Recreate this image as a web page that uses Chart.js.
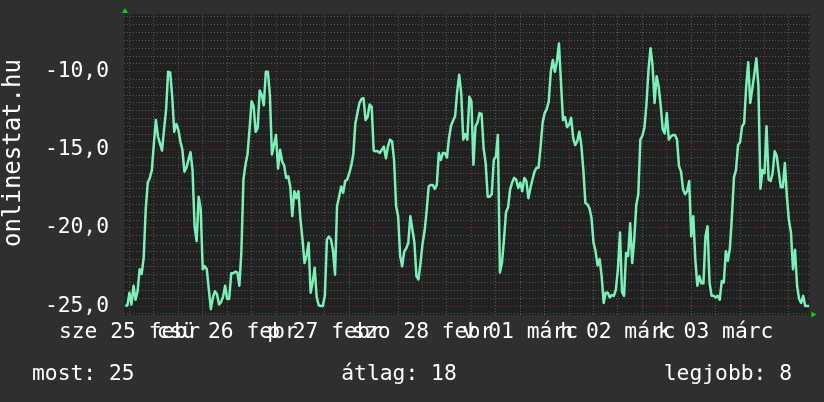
<!DOCTYPE html>
<html><head><meta charset="utf-8">
<script src="https://cdn.jsdelivr.net/npm/chart.js@4"></script>
<style>html,body{margin:0;padding:0;background:#2f2f2f;overflow:hidden}</style>
</head><body>
<canvas id="c" width="824" height="402" style="width:824px;height:402px;display:block"></canvas>
<script>
// time axis: hours since 2015-02-25 00:00, one value every half hour
const firstHour = 11;
const stepHours = 0.5;
const rankValues = [
 -25.0,-24.95,-24.15,-24.9,-23.7,-24.6,-24.05,-22.65,-22.95,-21.9,
 -18.8,-17.1,-16.8,-16.3,-14.6,-13.1,-14.15,-14.6,-15.05,-13.7,
 -12.45,-10.0,-10.05,-11.6,-13.85,-13.35,-13.7,-14.45,-15.0,-16.4,
 -16.15,-15.65,-15.15,-16.3,-19.9,-20.85,-18.0,-18.8,-22.65,-22.45,
 -22.65,-23.95,-25.2,-24.45,-24.05,-24.25,-24.9,-24.75,-24.4,-23.7,
 -24.55,-24.55,-22.9,-22.9,-22.8,-22.85,-23.7,-21.5,-16.9,-15.95,
 -15.3,-13.7,-11.9,-12.2,-13.85,-13.6,-11.2,-11.5,-12.15,-10.0,
 -10.0,-11.5,-15.3,-14.7,-14.05,-16.2,-15.0,-15.75,-16.0,-16.8,
 -16.7,-17.35,-19.25,-17.65,-18.1,-17.65,-19.45,-20.7,-22.25,-21.8,
 -20.95,-24.15,-23.5,-22.55,-24.45,-24.95,-25.0,-25.0,-24.35,-20.75,
 -20.55,-20.75,-21.45,-23.0,-18.6,-18.0,-17.35,-17.75,-17.0,-16.9,
 -16.5,-16.0,-15.25,-13.3,-12.65,-12.0,-11.75,-11.7,-13.1,-12.9,
 -12.1,-12.25,-15.05,-15.1,-15.1,-15.2,-15.0,-14.8,-15.55,-14.8,
 -14.35,-14.45,-15.65,-18.6,-19.25,-21.8,-22.45,-21.5,-21.3,-20.95,
 -19.25,-20.1,-20.95,-23.1,-23.3,-22.25,-21.0,-20.2,-18.95,-17.35,
 -17.25,-17.25,-17.5,-17.25,-15.2,-15.65,-15.2,-15.2,-15.5,-14.25,
 -13.45,-13.15,-12.85,-11.3,-10.2,-11.4,-14.35,-14.0,-14.35,-11.6,
 -11.9,-15.95,-13.5,-13.25,-12.65,-12.7,-14.9,-15.85,-18.0,-18.0,
 -17.85,-15.65,-15.45,-14.05,-22.85,-22.25,-20.75,-19.0,-18.7,-17.55,
 -17.1,-16.8,-16.9,-17.45,-17.1,-17.65,-16.8,-17.0,-18.1,-17.45,
 -16.9,-16.4,-16.15,-16.15,-14.8,-13.25,-12.65,-12.4,-11.9,-10.0,
 -9.25,-10.0,-9.35,-8.2,-10.65,-13.1,-12.9,-13.55,-13.4,-12.95,
 -14.25,-14.7,-14.45,-13.85,-14.7,-16.3,-18.4,-18.5,-18.75,-19.35,
 -20.95,-21.5,-22.4,-22.0,-23.1,-24.8,-24.15,-24.15,-24.45,-24.3,
 -24.35,-23.95,-22.6,-20.3,-24.1,-24.35,-21.6,-21.8,-19.7,-22.25,
 -20.75,-18.55,-17.85,-14.35,-14.1,-13.6,-12.1,-9.9,-8.5,-9.6,
 -12.0,-10.3,-10.95,-12.15,-13.7,-13.95,-12.65,-14.35,-14.15,-14.05,
 -14.05,-14.35,-16.05,-16.4,-17.55,-17.85,-17.65,-17.0,-20.55,-19.25,
 -22.0,-23.7,-23.1,-23.55,-23.55,-20.55,-19.9,-23.5,-24.35,-24.35,
 -24.45,-24.35,-24.6,-23.4,-23.5,-21.5,-22.1,-21.3,-19.25,-16.75,
 -16.3,-14.7,-14.5,-13.5,-13.3,-10.95,-9.4,-12.0,-11.1,-10.15,
 -9.15,-10.9,-17.5,-16.3,-16.5,-13.5,-16.9,-17.0,-16.5,-15.1,
 -15.4,-16.4,-17.4,-17.4,-15.85,-18.0,-19.5,-20.3,-22.65,-21.4,
 -23.7,-24.55,-24.8,-24.35,-25.0,-25.0,-25.0
];
const dayLabelHours = [12, 36, 60, 84, 108, 132, 156];
const dayLabels = ['sze 25 febr', 'csü 26 febr', 'p 27 febr', 'szo 28 febr', 'v 01 márc', 'h 02 márc', 'k 03 márc'];
const yTickValues = [-10, -15, -20, -25];
const yTickLabels = ['-10,0', '-15,0', '-20,0', '-25,0'];
const axisTitle = 'onlinestat.hu';
const statLabels = ['most: 25', 'átlag: 18', 'legjobb: 8'];

const FONT = '"DejaVu Sans Mono", monospace';
const FS = 21.3;
const points = rankValues.map((v, i) => ({x: firstHour + i * stepHours, y: v}));

const decor = {
  id: 'decor',
  beforeDraw(chart) {
    const {ctx, chartArea: a} = chart;
    ctx.save();
    ctx.fillStyle = '#2f2f2f';
    ctx.fillRect(0, 0, chart.width, chart.height);
    ctx.fillStyle = '#212121';
    ctx.fillRect(a.left, a.top, a.right - a.left, a.bottom - a.top);
    ctx.restore();
  },
  afterDraw(chart) {
    const {ctx, chartArea: a} = chart;
    ctx.save();
    ctx.fillStyle = '#11cc11';
    ctx.beginPath();
    ctx.moveTo(a.left + 1, a.top - 6);
    ctx.lineTo(a.left - 2, a.top - 1);
    ctx.lineTo(a.left + 4, a.top - 1);
    ctx.closePath(); ctx.fill();
    ctx.beginPath();
    ctx.moveTo(a.right + 7, a.bottom - 0.5);
    ctx.lineTo(a.right + 2, a.bottom - 3.5);
    ctx.lineTo(a.right + 2, a.bottom + 2.5);
    ctx.closePath(); ctx.fill();
    ctx.fillStyle = '#ffffff';
    ctx.font = FS + 'px ' + FONT;
    ctx.textBaseline = 'alphabetic';
    ctx.textAlign = 'left';
    ctx.fillText(statLabels[0], 32, 380);
    ctx.textAlign = 'center';
    ctx.fillText(statLabels[1], 399, 380);
    ctx.textAlign = 'right';
    ctx.fillText(statLabels[2], 792, 380);
    ctx.font = '24px ' + FONT;
    ctx.translate(19.5, 153);
    ctx.rotate(-Math.PI / 2);
    ctx.textAlign = 'center';
    ctx.fillText(axisTitle, 0, 0);
    ctx.restore();
  }
};

const DASH = [1, 2];
new Chart(document.getElementById('c'), {
  type: 'line',
  data: {
    datasets: [{
      data: points,
      borderColor: '#78f2b8',
      borderWidth: 2.5,
      pointRadius: 0,
      tension: 0,
      borderJoinStyle: 'round',
      fill: false
    }]
  },
  options: {
    responsive: false,
    devicePixelRatio: 1,
    animation: false,
    events: [],
    layout: {padding: {left: 0, right: 14.6, top: 14, bottom: 0}},
    plugins: {legend: {display: false}, tooltip: {enabled: false}},
    scales: {
      x: {
        type: 'linear',
        min: 10.66,
        max: 179.03,
        afterFit(s) { s.height = 87; s.paddingLeft = 0; s.paddingRight = 0; },
        afterBuildTicks(s) {
          const t = [];
          for (let h = 12; h <= 174; h += 6) t.push({value: h});
          s.ticks = t;
        },
        ticks: {
          autoSkip: false, maxRotation: 0, minRotation: 0,
          color: '#ffffff', font: {family: FONT, size: FS}, padding: 5,
          callback(v) { const i = dayLabelHours.indexOf(v); return i >= 0 ? dayLabels[i] : ''; }
        },
        grid: {
          drawTicks: false,
          lineWidth: 1,
          borderDash: DASH,
          color(ctx) { return ctx.tick && ctx.tick.value % 24 === 0 ? '#7a3434' : '#555555'; }
        },
        border: {display: false, dash: DASH}
      },
      y: {
        type: 'linear',
        min: -25.575,
        max: -6.31,
        afterFit(s) { s.width = 124; s.paddingTop = 0; s.paddingBottom = 0; },
        afterBuildTicks(s) {
          const t = [];
          for (let v = -25.5; v <= -6.5; v += 0.5) t.push({value: v});
          s.ticks = t;
        },
        ticks: {
          autoSkip: false,
          color: '#ffffff', font: {family: FONT, size: FS}, padding: 15,
          callback(v) { const i = yTickValues.indexOf(v); return i >= 0 ? yTickLabels[i] : ''; }
        },
        grid: {
          drawTicks: false,
          lineWidth: 1,
          borderDash: DASH,
          color(ctx) { return ctx.tick && ctx.tick.value % 5 === 0 ? '#7a3434' : '#555555'; }
        },
        border: {display: false, dash: DASH}
      }
    }
  },
  plugins: [decor]
});
</script>
</body></html>
